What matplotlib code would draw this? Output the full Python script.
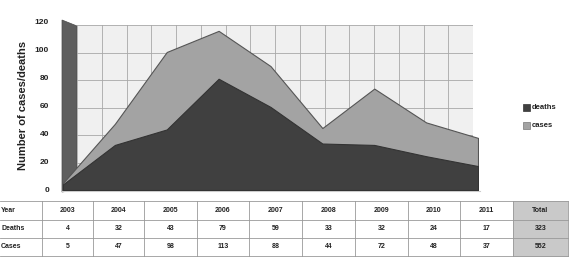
import matplotlib
matplotlib.use("Agg")
import matplotlib.pyplot as plt
from matplotlib.patches import Polygon, Rectangle

years = ["2003", "2004", "2005", "2006", "2007", "2008", "2009", "2010", "2011"]
deaths = [4, 32, 43, 79, 59, 33, 32, 24, 17]
cases = [5, 47, 98, 113, 88, 44, 72, 48, 37]
total_deaths = 323
total_cases = 552
row_labels = ["Year", "Deaths", "Cases"]
yticks = [0, 20, 40, 60, 80, 100, 120]

W, H = 571, 257
plt.rcParams['font.family'] = ['Liberation Sans', 'DejaVu Sans']
fig = plt.figure(figsize=(W / 100, H / 100), dpi=100)
fig.patch.set_facecolor('white')

def fx(px):
    return px / W

def fy(py):
    return 1 - py / H

# overlay in pixel coordinates (for wall, table, legend)
ov = fig.add_axes([0, 0, 1, 1], zorder=0)
ov.set_xlim(0, W)
ov.set_ylim(H, 0)
ov.axis('off')

# back wall with grid
bg = fig.add_axes([fx(77), fy(190), fx(473 - 77), (190 - 25) / H], zorder=1)
bg.set_facecolor('#f0f0f0')
bg.set_xlim(0, 16)
bg.set_ylim(0, 120)
bg.set_xticks(range(0, 17))
bg.set_yticks(yticks)
bg.grid(True, color='#a8a8a8', linewidth=0.6)
bg.tick_params(length=0, labelleft=False, labelbottom=False)
for s in bg.spines.values():
    s.set_visible(False)

# left side wall
ov.add_patch(Polygon([(62, 20), (77, 26), (77, 190), (62, 192)], closed=True,
                     facecolor='#5e5e5e', edgecolor='#4a4a4a', lw=0.5, zorder=2))

# main area axes
ax = fig.add_axes([fx(63), fy(190), fx(478 - 63), (190 - 21) / H], zorder=3)
ax.patch.set_alpha(0)
x = list(range(len(years)))
ax.fill_between(x, 0, cases, color='#a3a3a3', edgecolor='#555555', lw=0.8)
ax.fill_between(x, 0, deaths, color='#404040', edgecolor='#333333', lw=0.8)
ax.set_xlim(0, len(years) - 1)
ax.set_ylim(0, 120)
ax.set_yticks(yticks)
ax.set_yticklabels([str(v) for v in yticks], fontsize=6, fontweight='bold', color='#222222')
ax.set_xticks([])
ax.tick_params(axis='y', length=0, pad=10)
for s in ax.spines.values():
    s.set_visible(False)
ax.set_ylabel("Number of cases/deaths", fontsize=8, fontweight='bold', color='#222222', labelpad=5)

# floor line
ov.plot([62, 480], [191, 191], color='#cccccc', lw=0.8, zorder=2)

# legend
ov.add_patch(Rectangle((523, 104), 7, 7, facecolor='#404040', edgecolor='#333333', lw=0.5, zorder=4))
ov.add_patch(Rectangle((523, 122), 7, 7, facecolor='#a3a3a3', edgecolor='#777777', lw=0.5, zorder=4))
ov.text(532, 107.5, "deaths", fontsize=5.5, fontweight='bold', va='center', ha='left', color='#222222')
ov.text(532, 125.5, "cases", fontsize=5.5, fontweight='bold', va='center', ha='left', color='#222222')

# table
row_y = [201, 220, 238, 256]
col_edges = [42, 93, 144, 197, 249, 302, 355, 408, 460, 513, 568]
ov.add_patch(Rectangle((513, 201), 55, 56, facecolor='#c9c9c9', edgecolor='none', zorder=1))
for yy in row_y:
    ov.plot([0, 568], [yy, yy], color='#999999', lw=0.6, zorder=2)
for xx in col_edges:
    ov.plot([xx, xx], [201, 257], color='#999999', lw=0.6, zorder=2)

cell_fs = 5
centers = [(col_edges[i] + col_edges[i + 1]) / 2 for i in range(len(col_edges) - 1)]
ys = [(row_y[i] + row_y[i + 1]) / 2 for i in range(3)]
for r in range(3):
    ov.text(1, ys[r], row_labels[r], fontsize=cell_fs, fontweight='bold', va='center', ha='left', color='#222222')
for i, yr in enumerate(years):
    ov.text(centers[i], ys[0], yr, fontsize=cell_fs, fontweight='bold', va='center', ha='center', color='#222222')
    ov.text(centers[i], ys[1], str(deaths[i]), fontsize=cell_fs, fontweight='bold', va='center', ha='center', color='#222222')
    ov.text(centers[i], ys[2], str(cases[i]), fontsize=cell_fs, fontweight='bold', va='center', ha='center', color='#222222')
ov.text(centers[-1], ys[0], "Total", fontsize=cell_fs, fontweight='bold', va='center', ha='center', color='#222222')
ov.text(centers[-1], ys[1], str(total_deaths), fontsize=cell_fs, fontweight='bold', va='center', ha='center', color='#222222')
ov.text(centers[-1], ys[2], str(total_cases), fontsize=cell_fs, fontweight='bold', va='center', ha='center', color='#222222')

fig.savefig("out.png", dpi=100, facecolor='white')
